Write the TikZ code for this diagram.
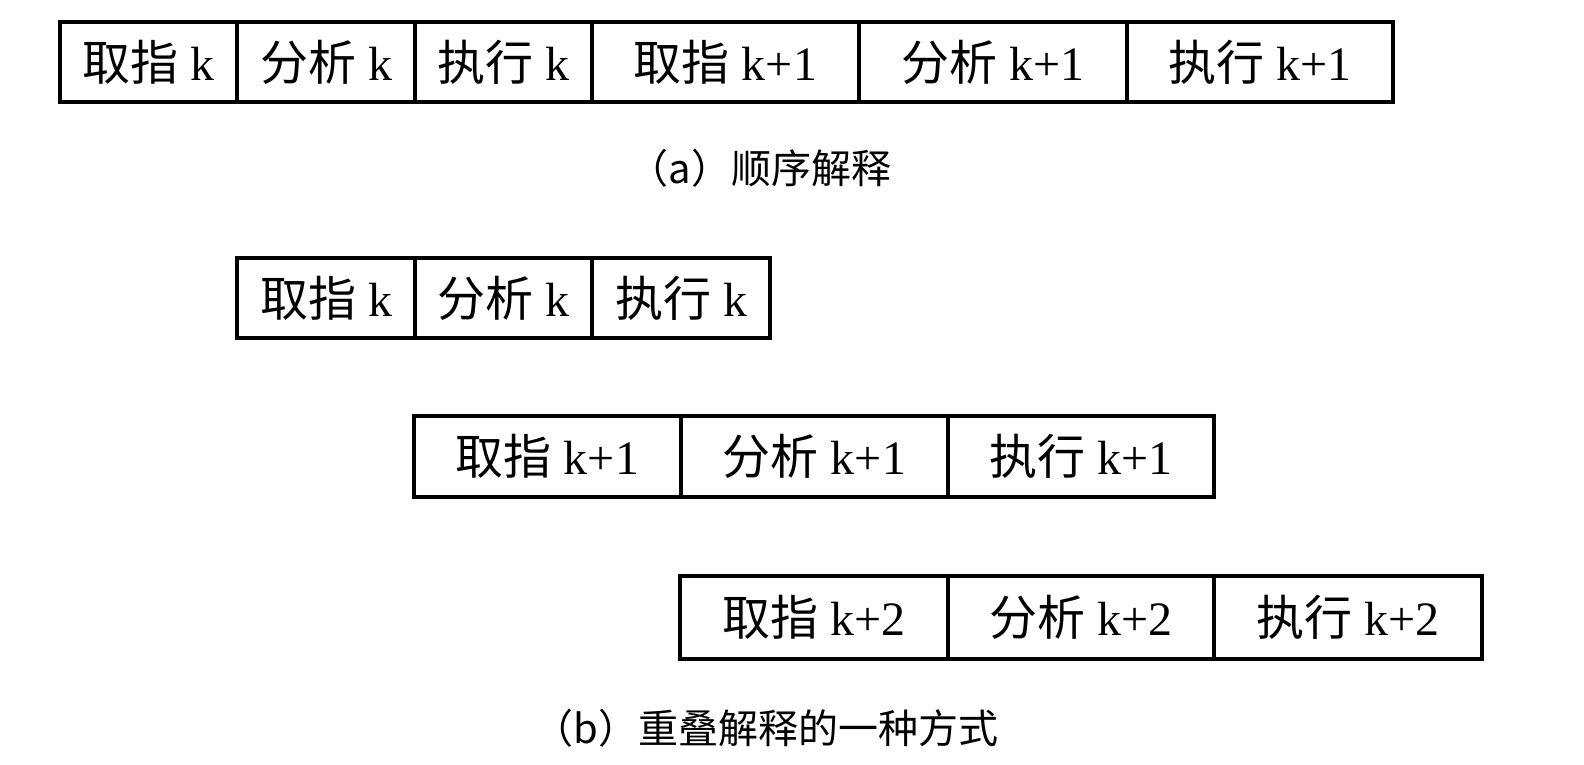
\documentclass[tikz,border=0pt]{standalone}
\usepackage{fontspec}
\setmainfont{Liberation Serif}
\newfontfamily\cjk{Noto Sans CJK SC}
\begin{document}
\begin{tikzpicture}[x=1pt,y=-1pt,
  cell/.style={draw, line width=3.2pt, inner sep=0pt, anchor=center, font=\fontsize{48}{56}\selectfont},
  captext/.style={inner sep=0pt, anchor=center, font=\fontsize{40}{48}\selectfont}]
\useasboundingbox (0,0) rectangle (1584,764);
% (a)
\node[cell, minimum width=177pt, minimum height=80pt] (a1) at (148.5,62) {{\cjk 取指} k};
\node[cell, minimum width=178pt, minimum height=80pt] (a2) at (326,62) {{\cjk 分析} k};
\node[cell, minimum width=177pt, minimum height=80pt] (a3) at (503.5,62) {{\cjk 执行} k};
\node[cell, minimum width=267pt, minimum height=80pt] (a4) at (725.5,62) {{\cjk 取指} k+1};
\node[cell, minimum width=268pt, minimum height=80pt] (a5) at (993,62) {{\cjk 分析} k+1};
\node[cell, minimum width=266pt, minimum height=80pt] (a6) at (1260,62) {{\cjk 执行} k+1};
\node[captext] (capa) at (760,168) {\cjk （a）顺序解释};
% (b)
\node[cell, minimum width=178pt, minimum height=80pt] (b1) at (326,298) {{\cjk 取指} k};
\node[cell, minimum width=177pt, minimum height=80pt] (b2) at (503.5,298) {{\cjk 分析} k};
\node[cell, minimum width=178pt, minimum height=80pt] (b3) at (681,298) {{\cjk 执行} k};
\node[cell, minimum width=267pt, minimum height=81pt] (c1) at (547.5,456.5) {{\cjk 取指} k+1};
\node[cell, minimum width=267pt, minimum height=81pt] (c2) at (814.5,456.5) {{\cjk 分析} k+1};
\node[cell, minimum width=266pt, minimum height=81pt] (c3) at (1081,456.5) {{\cjk 执行} k+1};
\node[cell, minimum width=268pt, minimum height=83pt] (d1) at (814,617.5) {{\cjk 取指} k+2};
\node[cell, minimum width=266pt, minimum height=83pt] (d2) at (1081,617.5) {{\cjk 分析} k+2};
\node[cell, minimum width=268pt, minimum height=83pt] (d3) at (1348,617.5) {{\cjk 执行} k+2};
\node[captext] (capb) at (766,728) {\cjk （b）重叠解释的一种方式};
\end{tikzpicture}
\end{document}
